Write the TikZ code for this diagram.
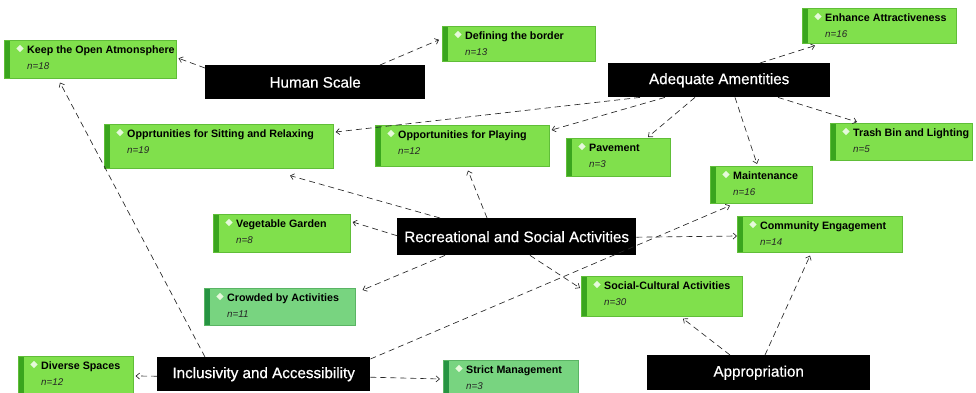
\documentclass[tikz,border=0pt]{standalone}
\usepackage{fontspec}
\setmainfont{Liberation Sans}
\newfontfamily\blackfont[FakeBold=0.6]{Liberation Sans}
\usetikzlibrary{arrows.meta,shapes.geometric}
\definecolor{gfill}{RGB}{128,224,76}
\definecolor{gborder}{RGB}{96,190,56}
\definecolor{gstrip}{RGB}{58,165,30}
\definecolor{mfill}{RGB}{120,212,128}
\definecolor{mborder}{RGB}{90,180,100}
\definecolor{mstrip}{RGB}{38,148,66}
\tikzset{
  gbox/.style={draw=gborder, fill=gfill, line width=0.6pt, inner sep=0pt,
    path picture={\fill[gstrip] (path picture bounding box.north west) rectangle ([xshift=6pt]path picture bounding box.south west);}},
  mbox/.style={draw=mborder, fill=mfill, line width=0.6pt, inner sep=0pt,
    path picture={\fill[mstrip] (path picture bounding box.north west) rectangle ([xshift=6pt]path picture bounding box.south west);}},
  bbox/.style={fill=black, inner sep=0pt},
  btxt/.style={inner sep=0pt, text=white, font=\blackfont\fontsize{15.2}{17}\selectfont},
  ttl/.style={inner sep=0pt, font=\fontsize{10.7}{12}\selectfont\bfseries},
  nnum/.style={inner sep=0pt, font=\fontsize{9.8}{11}\selectfont\itshape, text=black!85},
  dia/.style={diamond, fill=white!80!gfill, minimum size=7.5pt, inner sep=0pt},
  conn/.style={draw=black!85, line width=0.65pt, dash pattern=on 6pt off 4pt,
    -{Straight Barb[length=3.5pt,width=6pt,line width=0.65pt]}}
}
% #1 name, #2 x, #3 y, #4 w, #5 h, #6 title, #7 n, #8 style
\newcommand{\gbx}[8]{%
  \node[#8, minimum width=#4pt, minimum height=#5pt, anchor=north west] (#1) at (#2,-#3) {};
  \node[dia] (#1-d) at ([xshift=16pt,yshift=-8.5pt]#1.north west) {};
  \node[ttl, anchor=base west] (#1-t) at ([xshift=23pt,yshift=-13.5pt]#1.north west) {#6};
  \node[nnum, anchor=base west] (#1-n) at ([xshift=23pt,yshift=-29.5pt]#1.north west) {n=#7};
}
% #1 name, #2 x, #3 y, #4 w, #5 h, #6 text
\newcommand{\bbx}[6]{%
  \node[bbox, minimum width=#4pt, minimum height=#5pt, anchor=north west] (#1) at (#2,-#3) {};
  \node[btxt] (#1-t) at (#1.center) {#6};
}
\begin{document}
\begin{tikzpicture}[x=1pt,y=1pt]
\useasboundingbox (0,0) rectangle (976,-393);
\begin{scope}
\clip (0,0) rectangle (976,-393);
% black boxes
\bbx{hs}{205}{65}{220}{34}{Human Scale}
\bbx{aa}{608}{63}{222}{34}{Adequate Amentities}
\bbx{rs}{397}{218}{239}{37}{Recreational and Social Activities}
\bbx{ia}{157}{357}{213}{34}{Inclusivity and Accessibility}
\bbx{ap}{647}{355}{223}{35}{Appropriation}
% green boxes
\gbx{keep}{4}{40}{172}{38}{Keep the Open Atmonsphere}{18}{gbox}
\gbx{border}{442}{26}{153}{35}{Defining the border}{13}{gbox}
\gbx{enh}{802}{8}{154}{35}{Enhance Attractiveness}{16}{gbox}
\gbx{sit}{104}{124}{229}{44}{Opprtunities for Sitting and Relaxing}{19}{gbox}
\gbx{play}{375}{125}{174}{41}{Opportunities for Playing}{12}{gbox}
\gbx{pave}{566}{138}{104}{38}{Pavement}{3}{gbox}
\gbx{trash}{830}{123}{142}{37}{Trash Bin and Lighting}{5}{gbox}
\gbx{maint}{710}{166}{102}{37}{Maintenance}{16}{gbox}
\gbx{comm}{737}{216}{165}{36}{Community Engagement}{14}{gbox}
\gbx{veg}{213}{214}{137}{38}{Vegetable Garden}{8}{gbox}
\gbx{crowd}{204}{288}{151}{37}{Crowded by Activities}{11}{mbox}
\gbx{soc}{581}{276}{161}{40}{Social-Cultural Activities}{30}{gbox}
\gbx{div}{18}{356}{115}{40}{Diverse Spaces}{12}{gbox}
\gbx{strict}{443}{360}{135}{36}{Strict Management}{3}{mbox}
% connectors
\draw[conn] ([yshift=-3pt]hs.north west) -- ([xshift=2pt,yshift=1pt]keep.east);
\draw[conn] ([xshift=175pt]hs.north west) -- ([xshift=-3pt,yshift=4pt]border.west);
\draw[conn] ([xshift=152pt]aa.north west) -- ([xshift=13pt,yshift=-2pt]enh.south west);
\draw[conn] ([xshift=32pt]aa.south west) -- ([xshift=2pt,yshift=-8pt]sit.north east);
\draw[conn] ([xshift=57pt]aa.south west) -- ([xshift=2pt,yshift=-5pt]play.north east);
\draw[conn] ([xshift=87pt]aa.south west) -- ([xshift=82pt,yshift=1pt]pave.north west);
\draw[conn] ([xshift=127pt]aa.south west) -- ([xshift=47pt,yshift=2pt]maint.north west);
\draw[conn] ([xshift=170pt]aa.south west) -- ([xshift=27pt,yshift=1pt]trash.north west);
\draw[conn] ([xshift=43pt]rs.north west) -- ([xshift=186pt,yshift=-7pt]sit.south west);
\draw[conn] ([xshift=90pt]rs.north west) -- ([xshift=93pt,yshift=-4pt]play.south west);
\draw[conn] ([yshift=1pt]rs.west) -- ([xshift=2pt,yshift=-8pt]veg.north east);
\draw[conn] ([xshift=48pt]rs.south west) -- ([xshift=7pt,yshift=-2pt]crowd.north east);
\draw[conn] ([xshift=133pt]rs.south west) -- ([xshift=-1pt,yshift=-12pt]soc.north west);
\draw[conn] ([yshift=-0.5pt]rs.east) -- ([yshift=-20pt]comm.north west);
\draw[conn] ([xshift=48pt]ia.north west) -- ([xshift=56pt,yshift=-4pt]keep.south west);
\draw[conn] ([yshift=-2pt]ia.west) -- ([xshift=2pt,yshift=-20pt]div.north east);
\draw[conn] ([yshift=-3pt]ia.east) -- ([xshift=-3pt,yshift=-19pt]strict.north west);
\draw[conn] ([yshift=-2pt]ia.north east) -- ([xshift=20pt,yshift=-2pt]maint.south west);
\draw[conn] ([xshift=83pt]ap.north west) -- ([xshift=102pt,yshift=-2pt]soc.south west);
\draw[conn] ([xshift=118pt]ap.north west) -- ([xshift=73pt,yshift=-3pt]comm.south west);
\end{scope}
\end{tikzpicture}
\end{document}
